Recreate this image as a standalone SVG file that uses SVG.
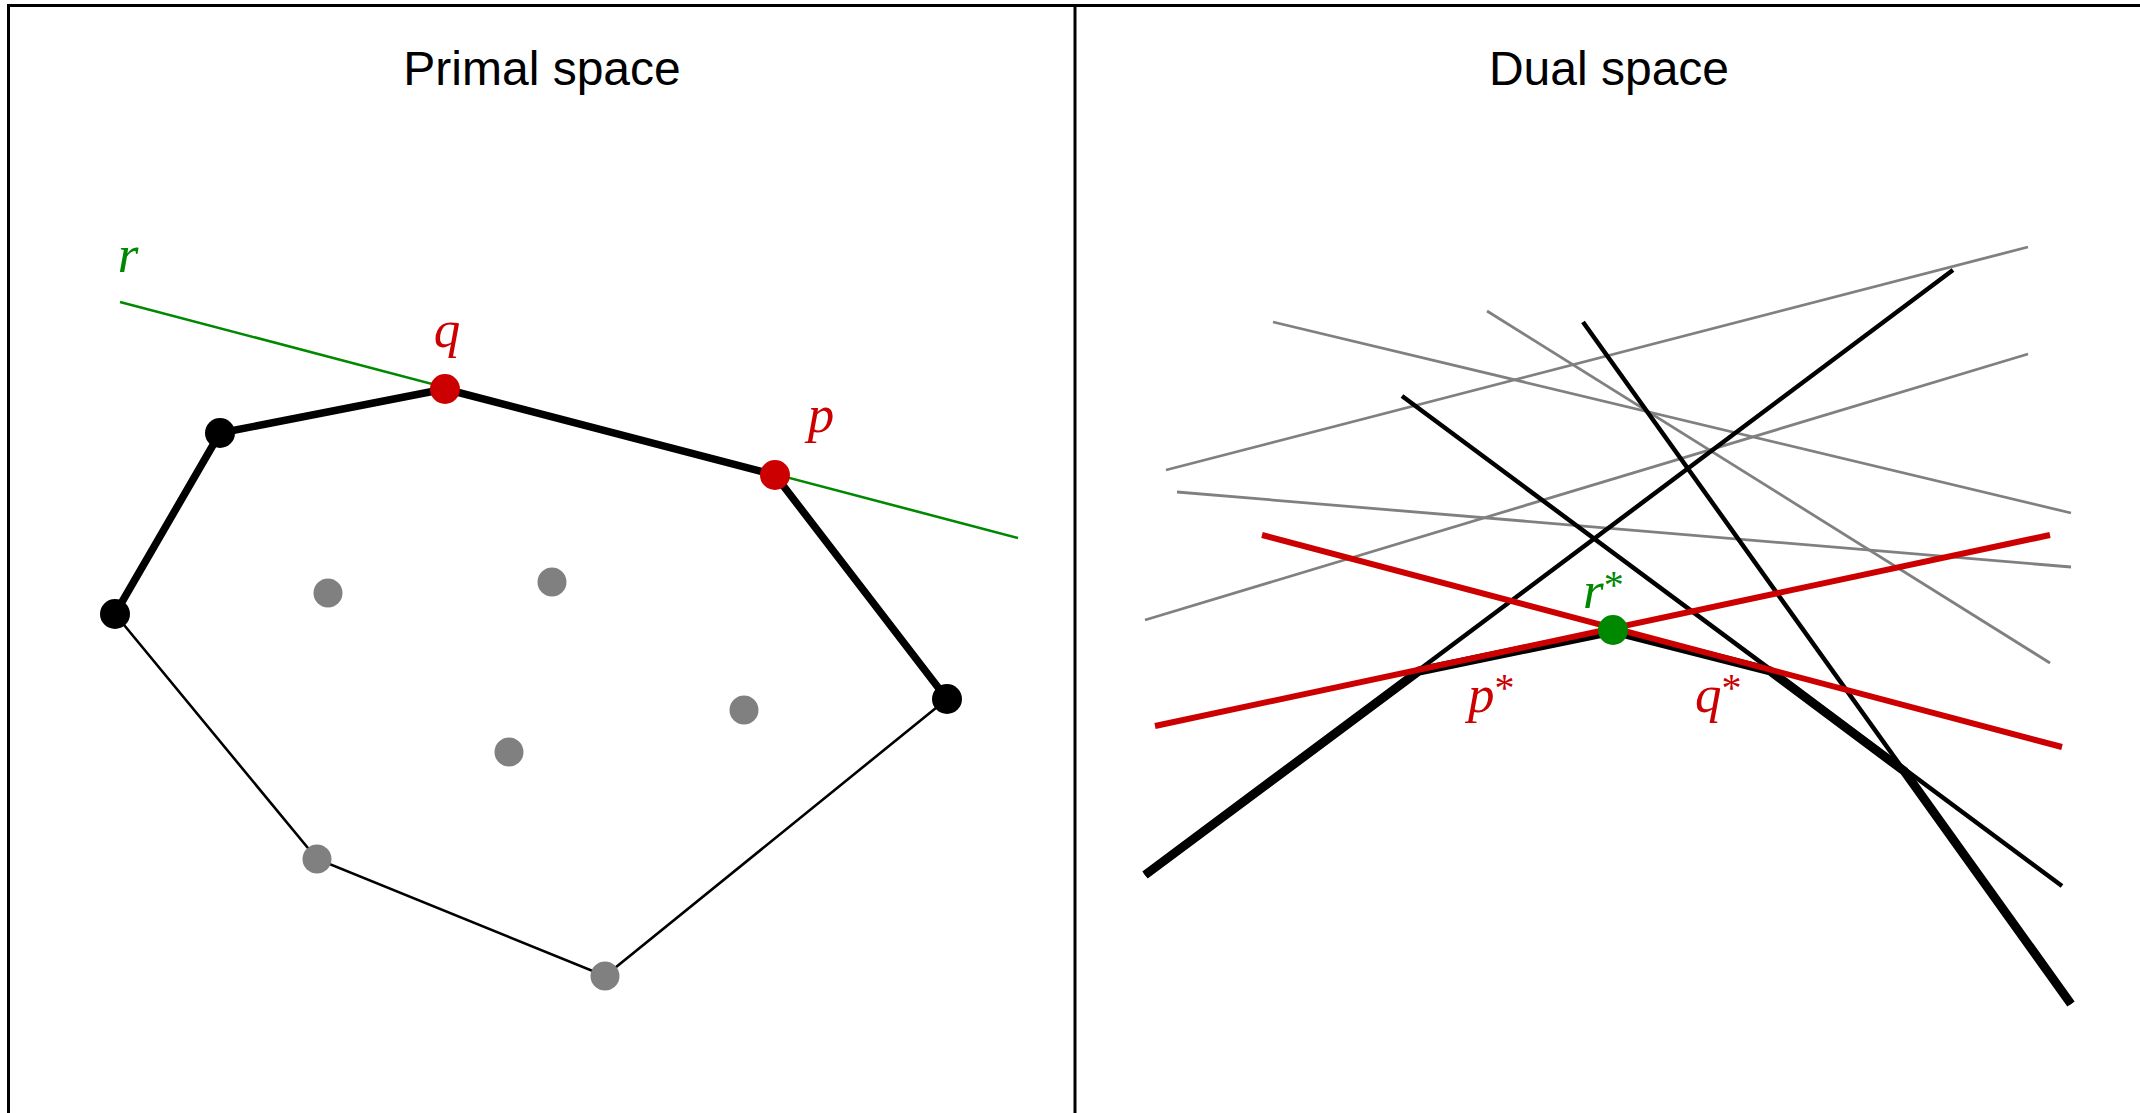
<svg xmlns="http://www.w3.org/2000/svg" width="2140" height="1113" viewBox="0 0 2140 1113">
<style>
.frame{fill:none;stroke:#000;stroke-width:3}
.title{font-family:"Liberation Sans",Arial,sans-serif;font-size:48px;fill:#000;text-anchor:middle}
.math{font-family:"Liberation Serif","Times New Roman",serif;font-style:italic;font-size:53px}
.star{font-style:normal;font-size:40px}
.red{fill:#cc0000}
.green{fill:#008800}
.black{fill:#000}
.gray{fill:#808080}
.thick{stroke:#000;stroke-width:7.5;fill:none;stroke-linejoin:round}
.thin{stroke:#000;stroke-width:2.6;fill:none}
.rline{stroke:#008800;stroke-width:2.6;fill:none}
.gl{stroke:#808080;stroke-width:2.8;fill:none}
.bl{stroke:#000;stroke-width:4.5;fill:none}
.env{stroke:#000;stroke-width:9;fill:none;stroke-linejoin:miter}
.rl{stroke:#cc0000;stroke-width:6;fill:none}
</style>
<rect width="2140" height="1113" fill="#fff"/>
<g id="frame">
<path class="frame" d="M8.5,1113 V5.5 H2140 M1075,5.5 V1113"/>
<text class="title" x="542" y="85">Primal space</text>
<text class="title" x="1609" y="85">Dual space</text>
</g>
<g id="connectors">
<line class="rline" x1="120" y1="302" x2="1018" y2="538"/>
<polyline class="thin" points="115,614 317,859 605,976 947,699"/>
<polyline class="thick" points="115,614 220,433 445,389 775,475 947,699"/>
<line class="gl" x1="1166" y1="470" x2="2028" y2="247"/>
<line class="gl" x1="1273" y1="322" x2="2071" y2="513"/>
<line class="gl" x1="1487" y1="311" x2="2050" y2="663"/>
<line class="gl" x1="1177" y1="492" x2="2071" y2="567"/>
<line class="gl" x1="1145" y1="620" x2="2028" y2="354"/>
<line class="bl" x1="1583" y1="322" x2="2071" y2="1004"/>
<line class="bl" x1="1402" y1="396" x2="2062" y2="886"/>
<line class="bl" x1="1145" y1="875" x2="1953" y2="270"/>
<polyline class="env" points="1145,875 1419,671 1613,631 1770,671 1904,771 2071,1004"/>
<line class="rl" x1="1155" y1="726" x2="2050" y2="535"/>
<line class="rl" x1="1262" y1="535" x2="2062" y2="747"/>
</g>
<g id="node-r"><text class="math green" x="128" y="272" text-anchor="middle">r</text></g>
<g id="node-q"><circle class="red" cx="445" cy="389" r="15"/><text class="math red" x="447" y="347" text-anchor="middle">q</text></g>
<g id="node-p"><circle class="red" cx="775" cy="475" r="15"/><text class="math red" x="821" y="432" text-anchor="middle">p</text></g>
<g id="node-a"><circle class="black" cx="220" cy="433" r="15"/></g>
<g id="node-b"><circle class="black" cx="115" cy="614" r="15"/></g>
<g id="node-c"><circle class="black" cx="947" cy="699" r="15"/></g>
<g id="node-g1"><circle class="gray" cx="317" cy="859" r="14.5"/></g>
<g id="node-g2"><circle class="gray" cx="605" cy="976" r="14.5"/></g>
<g id="node-i1"><circle class="gray" cx="328" cy="593" r="14.5"/></g>
<g id="node-i2"><circle class="gray" cx="552" cy="582" r="14.5"/></g>
<g id="node-i3"><circle class="gray" cx="744" cy="710" r="14.5"/></g>
<g id="node-i4"><circle class="gray" cx="509" cy="752" r="14.5"/></g>
<g id="node-rstar"><circle class="green" cx="1613" cy="630" r="15"/><text class="math green" x="1583" y="608">r<tspan class="star" dy="-10">*</tspan></text></g>
<g id="node-pstar"><text class="math red" x="1468" y="712">p<tspan class="star" dy="-11">*</tspan></text></g>
<g id="node-qstar"><text class="math red" x="1695" y="712">q<tspan class="star" dy="-11">*</tspan></text></g>
</svg>
